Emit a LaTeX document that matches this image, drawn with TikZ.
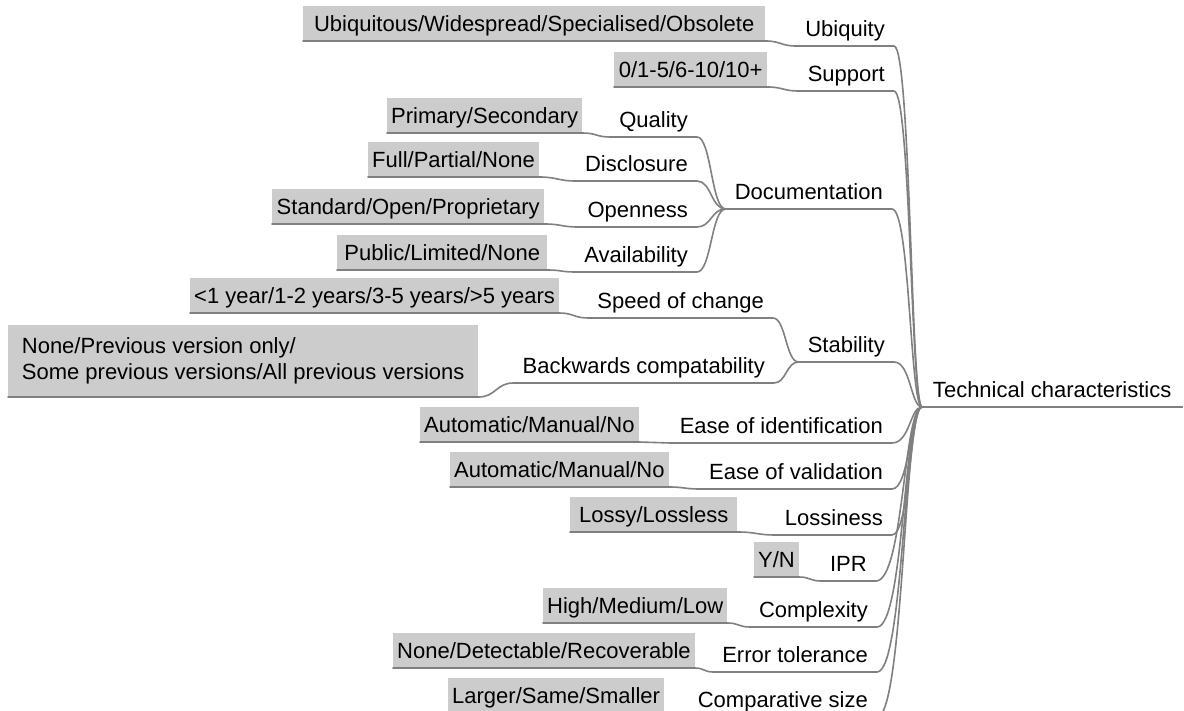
\documentclass[tikz,border=0pt]{standalone}
\usepackage{fontspec}
\setmainfont{Liberation Sans}
\usetikzlibrary{calc}
\definecolor{boxgray}{RGB}{204,204,204}
\definecolor{edgegray}{RGB}{128,128,128}
% child underline + fork connector to parent
\newcommand{\forkto}[3][0.5]{%
  \draw[edge] let \p1=(#2.south east), \p2=(#3.south west) in
    (#2.south west) -- (\p1) .. controls ({\x1+#1*(\x2-\x1)},\y1) and ({\x1+#1*(\x2-\x1)},\y2) .. (\p2);}
\begin{document}
\begin{tikzpicture}[x=1pt,y=-1pt,font=\fontsize{22}{26}\selectfont,
  valbox/.style={fill=boxgray, inner xsep=4pt, inner ysep=3pt, text height=23pt, text depth=6pt, anchor=south west},
  multibox/.style={fill=boxgray, inner xsep=4pt, inner ysep=0pt, align=left, anchor=south west},
  lab/.style={inner xsep=9pt, inner ysep=3pt, text height=23pt, text depth=6pt, anchor=south east},
  edge/.style={draw=edgegray, line width=1.6pt, line join=round, line cap=round}]
\fill[white] (0,0) rectangle (1184,711);
\useasboundingbox (0,0) rectangle (1184,711);

% root
\node[lab, anchor=south west, minimum width=260pt] (root) at (922,407) {Technical characteristics};
\draw[edge] (root.south west) -- (root.south east);

% first-level labels
\node[lab] (l1) at (894,46) {Ubiquity};
\node[lab] (l2) at (894,91) {Support};
\node[lab] (doc) at (892,209) {Documentation};
\node[lab] (sta) at (894,362) {Stability};
\node[lab] (l9) at (892,443) {Ease of identification};
\node[lab] (l10) at (892,489) {Ease of validation};
\node[lab] (l11) at (892,535) {Lossiness};
\node[lab] (l12) at (876,581) {IPR};
\node[lab] (l13) at (877,627) {Complexity};
\node[lab] (l14) at (877,672) {Error tolerance};
\node[lab] (l15) at (877,717) {Comparative size};

% second-level labels
\node[lab] (l3) at (697,137) {Quality};
\node[lab] (l4) at (697,181) {Disclosure};
\node[lab] (l5) at (697,227) {Openness};
\node[lab] (l6) at (697,272) {Availability};
\node[lab] (l7) at (773,318) {Speed of change};
\node[lab] (l8) at (774,383) {Backwards compatability};

% value boxes
\node[valbox, minimum width=462pt] (b1) at (303,41) {Ubiquitous/Widespread/Specialised/Obsolete};
\node[valbox, minimum width=153pt] (b2) at (614,87) {0/1-5/6-10/10+};
\node[valbox, minimum width=195pt] (b3) at (387,133) {Primary/Secondary};
\node[valbox, minimum width=170pt] (b4) at (368,177) {Full/Partial/None};
\node[valbox, minimum width=272pt] (b5) at (272,224) {Standard/Open/Proprietary};
\node[valbox, minimum width=210pt] (b6) at (337,270) {Public/Limited/None};
\node[valbox, minimum width=363pt] (b7) at (190,313) {<1 year/1-2 years/3-5 years/>5 years};
\node[multibox, minimum width=470pt, minimum height=72pt] (b8) at (8,397) {None/Previous version only/\\Some previous versions/All previous versions};
\node[valbox, minimum width=217pt] (b9) at (420,442) {Automatic/Manual/No};
\node[valbox, minimum width=218pt] (b10) at (450,487) {Automatic/Manual/No};
\node[valbox, minimum width=167pt] (b11) at (570,532) {Lossy/Lossless};
\node[valbox, minimum width=40pt] (b12) at (754,577) {Y/N};
\node[valbox, minimum width=181pt] (b13) at (543,623) {High/Medium/Low};
\node[valbox, minimum width=294pt] (b14) at (393,668) {None/Detectable/Recoverable};
\node[valbox, minimum width=215pt] (b15) at (448,713) {Larger/Same/Smaller};

% box -> label connectors
\forkto{b1}{l1}
\forkto{b2}{l2}
\forkto{b3}{l3}
\forkto{b4}{l4}
\forkto{b5}{l5}
\forkto{b6}{l6}
\forkto{b7}{l7}
\forkto{b8}{l8}
\forkto{b9}{l9}
\forkto{b10}{l10}
\forkto{b11}{l11}
\forkto{b12}{l12}
\forkto{b13}{l13}
\forkto{b14}{l14}
\forkto{b15}{l15}

% second level -> first level
\forkto{l3}{doc}
\forkto{l4}{doc}
\forkto{l5}{doc}
\forkto{l6}{doc}
\forkto{l7}{sta}
\forkto{l8}{sta}

% first level -> root
\forkto[0.6]{l1}{root}
\forkto[0.6]{l2}{root}
\forkto[0.6]{doc}{root}
\forkto[0.6]{sta}{root}
\forkto[0.6]{l9}{root}
\forkto[0.6]{l10}{root}
\forkto[0.6]{l11}{root}
\forkto[0.6]{l12}{root}
\forkto[0.6]{l13}{root}
\forkto[0.6]{l14}{root}
\forkto[0.6]{l15}{root}
\end{tikzpicture}
\end{document}
